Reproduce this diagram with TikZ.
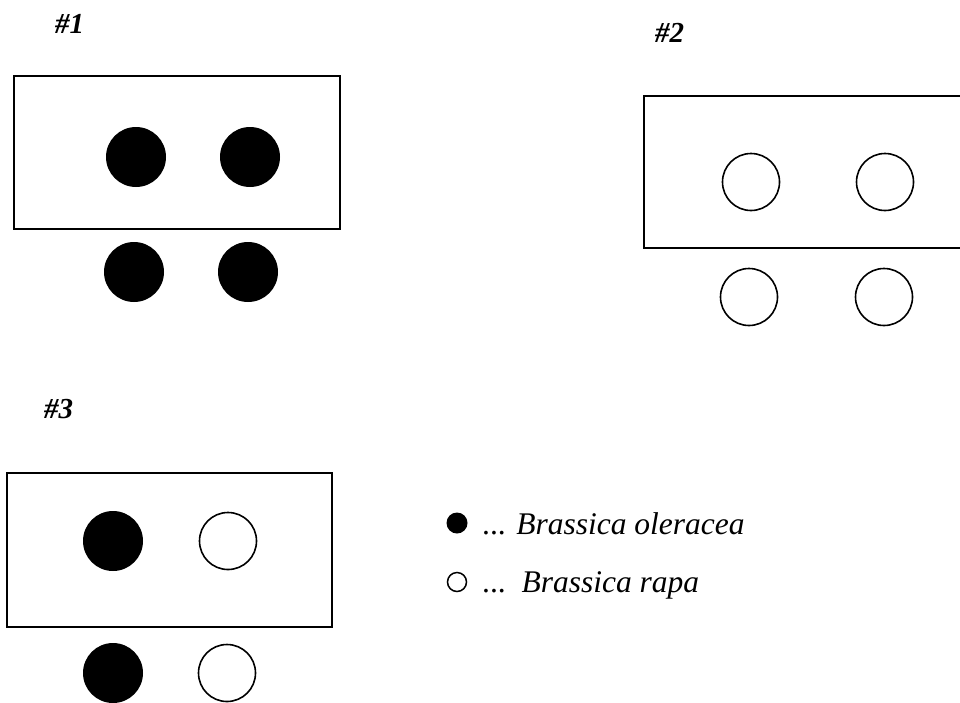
\documentclass[tikz,border=0pt]{standalone}
\usepackage{fontspec}
\setmainfont{Liberation Serif}
\begin{document}
\begin{tikzpicture}[x=1pt,y=-1pt,
  frame/.style={draw=black,line width=1.7pt},
  fullplant/.style={circle,fill=black,draw=none,minimum size=60pt,inner sep=0pt},
  openplant/.style={circle,draw=black,fill=white,line width=1.6pt,minimum size=57pt,inner sep=0pt},
  plotlabel/.style={anchor=base west,inner sep=0pt,font=\fontsize{29}{32}\selectfont\bfseries\itshape},
  legendtext/.style={anchor=base west,inner sep=0pt,font=\fontsize{31.5}{35}\selectfont},
  legfull/.style={circle,fill=black,draw=none,minimum size=21pt,inner sep=0pt},
  legopen/.style={circle,draw=black,line width=1.5pt,minimum size=19pt,inner sep=0pt}]
\useasboundingbox (0,0) rectangle (960,702);
\clip (0,0) rectangle (960,702);
\fill[white] (0,0) rectangle (960,702);

% plot labels
\node[plotlabel] (l1) at (55,33) {\#1};
\node[plotlabel] (l2) at (655,42) {\#2};
\node[plotlabel] (l3) at (44,418) {\#3};

% plot 1
\draw[frame] (14,76) rectangle (340,229);
\node[fullplant] (p1a) at (136,157) {};
\node[fullplant] (p1b) at (250,157) {};
\node[fullplant] (p1c) at (134,272) {};
\node[fullplant] (p1d) at (248,272) {};

% plot 2 (cut at right edge)
\draw[frame] (970,96) -- (644,96) -- (644,248) -- (970,248);
\node[openplant] (p2a) at (751,182) {};
\node[openplant] (p2b) at (885,182) {};
\node[openplant] (p2c) at (749,297) {};
\node[openplant] (p2d) at (884,297) {};

% plot 3
\draw[frame] (7,473) rectangle (332,627);
\node[fullplant] (p3a) at (113,541) {};
\node[openplant] (p3b) at (228,541) {};
\node[fullplant] (p3c) at (113,673) {};
\node[openplant] (p3d) at (227,673) {};

% legend
\node[legfull] (k1) at (457,523) {};
\node[legendtext] (t1) at (482,534) {... \textit{Brassica oleracea}};
\node[legopen] (k2) at (457,582) {};
\node[legendtext] (t2) at (482,592) {...\ \ \textit{Brassica rapa}};
\end{tikzpicture}
\end{document}
